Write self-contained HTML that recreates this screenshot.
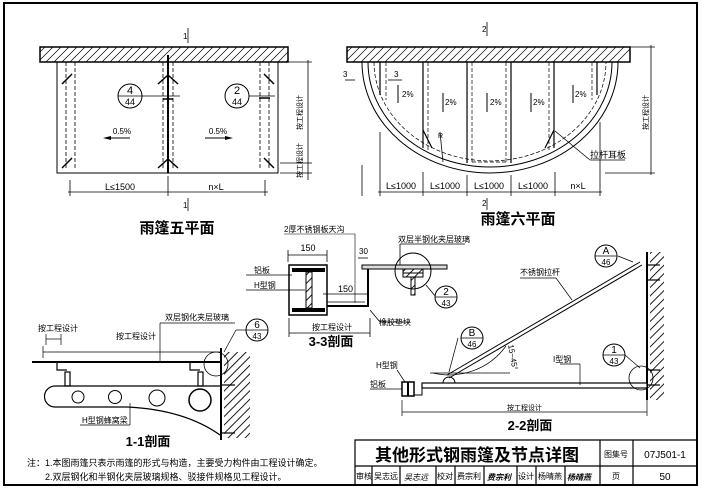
<!DOCTYPE html>
<html><head><meta charset="utf-8"><style>
body{margin:0;background:#fff}
svg{display:block}
text{font-family:"Liberation Sans","Noto Sans CJK SC",sans-serif;fill:#000}
</style></head><body>
<svg width="701" height="488" viewBox="0 0 701 488" xmlns="http://www.w3.org/2000/svg">
<defs>
<pattern id="h" width="6" height="6" patternUnits="userSpaceOnUse" patternTransform="rotate(45)"><rect x="2.5" y="0" width="0.9" height="6" fill="#000"/></pattern>
<clipPath id="c5"><rect x="40" y="47" width="248" height="15"/></clipPath>
<clipPath id="c6"><rect x="347" y="47" width="283" height="15"/></clipPath>
</defs>
<rect x="4" y="3" width="693" height="482" fill="none" stroke="#000" stroke-width="2"/>

<!-- Plan 5 -->
<g clip-path="url(#c5)"><path stroke="#000" stroke-width="0.7" fill="none" d="M30 62l15-15m-7 15l15-15m-7 15l15-15m-7 15l15-15m-7 15l15-15m-7 15l15-15m-7 15l15-15m-7 15l15-15m-7 15l15-15m-7 15l15-15m-7 15l15-15m-7 15l15-15m-7 15l15-15m-7 15l15-15m-7 15l15-15m-7 15l15-15m-7 15l15-15m-7 15l15-15m-7 15l15-15m-7 15l15-15m-7 15l15-15m-7 15l15-15m-7 15l15-15m-7 15l15-15m-7 15l15-15m-7 15l15-15m-7 15l15-15m-7 15l15-15m-7 15l15-15m-7 15l15-15m-7 15l15-15m-7 15l15-15m-7 15l15-15"/></g>
<rect x="40" y="47" width="248" height="15" fill="none" stroke="#000" stroke-width="1.5"/>
<rect x="57" y="62" width="221" height="111" fill="none" stroke="#000" stroke-width="1"/>
<line x1="168" y1="55" x2="168" y2="173" stroke="#000" stroke-width="2"/>
<g stroke="#000" stroke-width="0.8" stroke-dasharray="4,2" fill="none">
<line x1="66" y1="62" x2="66" y2="170"/><line x1="75" y1="62" x2="75" y2="170"/>
<line x1="163" y1="62" x2="163" y2="170"/><line x1="173" y1="62" x2="173" y2="170"/>
<line x1="260" y1="62" x2="260" y2="170"/><line x1="269" y1="62" x2="269" y2="170"/>
</g>
<g stroke="#000" stroke-width="1.5">
<line x1="62" y1="84" x2="72" y2="74"/><line x1="62" y1="168" x2="72" y2="158"/>
<line x1="158" y1="84" x2="168" y2="75"/><line x1="178" y1="84" x2="168" y2="75"/>
<line x1="158" y1="168" x2="168" y2="159"/><line x1="178" y1="168" x2="168" y2="159"/>
<line x1="264" y1="74" x2="274" y2="84"/><line x1="264" y1="158" x2="274" y2="168"/>
<line x1="163" y1="99" x2="173" y2="99"/><line x1="259" y1="98" x2="270" y2="98"/>
</g>
<circle cx="130" cy="96" r="12" fill="#fff" stroke="#000"/><line x1="118" y1="96" x2="180" y2="96" stroke="#000" stroke-width="0.7"/>
<text x="130" y="94" font-size="11" text-anchor="middle">4</text><text x="130" y="105" font-size="9" text-anchor="middle">44</text>
<circle cx="237" cy="96" r="12" fill="#fff" stroke="#000"/><line x1="249" y1="96" x2="275" y2="96" stroke="#000" stroke-width="0.7"/>
<text x="237" y="94" font-size="11" text-anchor="middle">2</text><text x="237" y="105" font-size="9" text-anchor="middle">44</text>
<text x="122" y="134" font-size="8" text-anchor="middle">0.5%</text><line x1="105" y1="138" x2="130" y2="138" stroke="#000"/><path d="M103 138l8-2v4z"/>
<text x="218" y="134" font-size="8" text-anchor="middle">0.5%</text><line x1="205" y1="138" x2="230" y2="138" stroke="#000"/><path d="M233 138l-8-2v4z"/>
<g stroke="#000" stroke-width="0.8"><line x1="70" y1="180" x2="70" y2="196"/><line x1="168" y1="176" x2="168" y2="196"/><line x1="265" y1="180" x2="265" y2="196"/><line x1="68" y1="192" x2="268" y2="192"/>
<line x1="308" y1="60" x2="308" y2="180"/><line x1="280" y1="62" x2="312" y2="62"/><line x1="280" y1="163" x2="312" y2="163"/><line x1="280" y1="173" x2="312" y2="173"/>
<line x1="188" y1="28" x2="188" y2="43"/><line x1="188" y1="198" x2="188" y2="211"/></g>
<text x="120" y="190" font-size="9" text-anchor="middle">L≤1500</text>
<text x="216" y="190" font-size="9" text-anchor="middle">n×L</text>
<text x="183" y="39" font-size="8">1</text><text x="183" y="208" font-size="8">1</text>
<text font-size="7" transform="translate(302,130) rotate(-90)">按工程设计</text>
<text font-size="7" transform="translate(302,178) rotate(-90)">按工程设计</text>
<text x="177" y="233" font-size="15" font-weight="bold" text-anchor="middle">雨篷五平面</text>

<!-- Plan 6 -->
<path d="M362 62 A128 111 0 0 0 618 62" fill="none" stroke="#000" stroke-width="1"/>
<path d="M368 62 A122 105 0 0 0 612 62" fill="none" stroke="#000" stroke-width="1"/>
<path d="M374 62 A116 99 0 0 0 606 62" fill="none" stroke="#000" stroke-width="0.7" stroke-dasharray="4,2"/>
<rect x="347" y="47" width="283" height="15" fill="#fff"/>
<g clip-path="url(#c6)"><path stroke="#000" stroke-width="0.7" fill="none" d="M337 62l15-15m-7 15l15-15m-7 15l15-15m-7 15l15-15m-7 15l15-15m-7 15l15-15m-7 15l15-15m-7 15l15-15m-7 15l15-15m-7 15l15-15m-7 15l15-15m-7 15l15-15m-7 15l15-15m-7 15l15-15m-7 15l15-15m-7 15l15-15m-7 15l15-15m-7 15l15-15m-7 15l15-15m-7 15l15-15m-7 15l15-15m-7 15l15-15m-7 15l15-15m-7 15l15-15m-7 15l15-15m-7 15l15-15m-7 15l15-15m-7 15l15-15m-7 15l15-15m-7 15l15-15m-7 15l15-15m-7 15l15-15m-7 15l15-15m-7 15l15-15m-7 15l15-15m-7 15l15-15"/></g>
<rect x="347" y="47" width="283" height="15" fill="none" stroke="#000" stroke-width="1.5"/>
<g stroke="#000" stroke-width="1.2">
<line x1="380" y1="62" x2="380" y2="95"/><line x1="423" y1="62" x2="423" y2="148"/><line x1="467" y1="62" x2="467" y2="163"/><line x1="511" y1="62" x2="511" y2="163"/><line x1="554" y1="62" x2="554" y2="148"/><line x1="597" y1="62" x2="597" y2="95"/>
<line x1="423" y1="130" x2="432" y2="148"/><line x1="554" y1="130" x2="545" y2="148"/>
</g>
<g stroke="#000" stroke-width="0.7" stroke-dasharray="4,2"><line x1="386" y1="62" x2="386" y2="100"/><line x1="428" y1="62" x2="428" y2="150"/><line x1="472" y1="62" x2="472" y2="162"/><line x1="506" y1="62" x2="506" y2="162"/><line x1="549" y1="62" x2="549" y2="150"/><line x1="592" y1="62" x2="592" y2="100"/><line x1="472" y1="162" x2="506" y2="162"/></g>
<g font-size="8">
<text x="402" y="97">2%</text><text x="445" y="105">2%</text><text x="490" y="105">2%</text><text x="533" y="105">2%</text><text x="575" y="97">2%</text>
</g>
<g stroke="#000"><line x1="398" y1="85" x2="398" y2="103"/><line x1="443" y1="93" x2="443" y2="112"/><line x1="487" y1="93" x2="487" y2="112"/><line x1="531" y1="93" x2="531" y2="112"/><line x1="573" y1="85" x2="573" y2="103"/></g>
<g stroke="#000" stroke-width="0.8">
<line x1="362" y1="165" x2="362" y2="196"/><line x1="380" y1="132" x2="380" y2="196"/><line x1="423" y1="172" x2="423" y2="196"/><line x1="467" y1="175" x2="467" y2="196"/><line x1="511" y1="175" x2="511" y2="196"/><line x1="555" y1="172" x2="555" y2="196"/><line x1="600" y1="122" x2="600" y2="196"/>
<line x1="378" y1="192" x2="602" y2="192"/>
<line x1="651" y1="45" x2="651" y2="175"/><line x1="630" y1="47" x2="655" y2="47"/><line x1="605" y1="173" x2="655" y2="173"/>
<line x1="487" y1="22" x2="487" y2="36"/><line x1="487" y1="198" x2="487" y2="210"/>
<line x1="345" y1="80" x2="355" y2="80"/><line x1="388" y1="80" x2="402" y2="80"/>
<line x1="440" y1="132" x2="443" y2="162"/><line x1="555" y1="131" x2="590" y2="160"/><line x1="590" y1="160" x2="625" y2="160"/>
</g>
<g font-size="9" text-anchor="middle"><text x="401" y="189">L≤1000</text><text x="445" y="189">L≤1000</text><text x="489" y="189">L≤1000</text><text x="533" y="189">L≤1000</text><text x="578" y="189">n×L</text></g>
<text x="482" y="32" font-size="8">2</text><text x="482" y="206" font-size="8">2</text>
<text x="343" y="77" font-size="8">3</text><text x="394" y="77" font-size="8">3</text>
<text x="438" y="138" font-size="7">R</text>
<text x="590" y="158" font-size="9">拉杆耳板</text>
<text font-size="7" transform="translate(648,130) rotate(-90)">按工程设计</text>
<text x="518" y="224" font-size="15" font-weight="bold" text-anchor="middle">雨篷六平面</text>

<!-- 3-3 -->
<text x="284" y="232" font-size="8">2厚不锈钢板天沟</text>
<line x1="284" y1="234" x2="355" y2="234" stroke="#000" stroke-width="0.6"/><line x1="355" y1="234" x2="355" y2="303" stroke="#000" stroke-width="0.6"/>
<g stroke="#000" stroke-width="0.8"><line x1="288" y1="255" x2="327" y2="255"/><line x1="288" y1="250" x2="288" y2="262"/><line x1="327" y1="250" x2="327" y2="262"/>
<line x1="289" y1="333" x2="370" y2="333"/><line x1="289" y1="318" x2="289" y2="337"/><line x1="370" y1="318" x2="370" y2="337"/>
<line x1="323" y1="294" x2="368" y2="294"/><line x1="358" y1="258" x2="368" y2="258"/>
<line x1="246" y1="275" x2="292" y2="275"/><line x1="246" y1="290" x2="305" y2="290"/>
<line x1="370" y1="310" x2="380" y2="322"/><line x1="380" y1="322" x2="410" y2="322"/>
<line x1="400" y1="244" x2="400" y2="265"/><line x1="400" y1="244" x2="465" y2="244"/>
<line x1="426" y1="285" x2="436" y2="297"/></g>
<rect x="289" y="265" width="38" height="50" fill="none" stroke="#000" stroke-width="1.5"/>
<rect x="292" y="268" width="33" height="4" fill="#000"/><rect x="292" y="308" width="33" height="4" fill="#000"/>
<rect x="306" y="272" width="6" height="36" fill="url(#h)" stroke="#000"/>
<path d="M327 306 H368 V267" fill="none" stroke="#000" stroke-width="2"/>
<line x1="327" y1="302" x2="365" y2="302" stroke="#000" stroke-width="0.8"/>
<text x="308" y="251" font-size="9" text-anchor="middle">150</text>
<text x="338" y="292" font-size="9">150</text>
<text x="359" y="254" font-size="8">30</text>
<text x="254" y="273" font-size="8">铝板</text><text x="254" y="288" font-size="8">H型钢</text>
<text x="312" y="330" font-size="8">按工程设计</text>
<text x="379" y="325" font-size="8">橡胶垫块</text>
<text x="331" y="346" font-size="13" font-weight="bold" text-anchor="middle">3-3剖面</text>
<rect x="362" y="265" width="85" height="4" fill="#ddd" stroke="#000"/>
<text x="398" y="242" font-size="8">双层半钢化夹层玻璃</text>
<circle cx="413" cy="271" r="18" fill="none" stroke="#000"/>
<rect x="403" y="269" width="20" height="4" fill="url(#h)" stroke="#000"/><rect x="403" y="273" width="20" height="4" fill="url(#h)" stroke="#000"/>
<rect x="411" y="277" width="4" height="18" fill="url(#h)" stroke="#000"/>
<circle cx="446" cy="297" r="11" fill="#fff" stroke="#000"/><line x1="435" y1="297" x2="457" y2="297" stroke="#000" stroke-width="0.7"/>
<text x="446" y="295" font-size="10" text-anchor="middle">2</text><text x="446" y="306" font-size="8" text-anchor="middle">43</text>

<!-- 1-1 -->
<rect x="224" y="352" width="26" height="86" fill="url(#h)"/>
<line x1="221" y1="348" x2="221" y2="440" stroke="#000" stroke-width="2"/>
<line x1="32" y1="362" x2="221" y2="362" stroke="#000" stroke-width="2"/>
<path d="M220 386 H55 A10.5 10.5 0 0 0 55 407 H128 Q185 410 220 435" fill="none" stroke="#000" stroke-width="1.2"/>
<circle cx="78" cy="397" r="6" fill="none" stroke="#000"/><circle cx="115" cy="397" r="6.5" fill="none" stroke="#000"/><circle cx="157" cy="398" r="8" fill="none" stroke="#000"/><circle cx="200" cy="400" r="11" fill="none" stroke="#000" stroke-width="1.5"/>
<g stroke="#000" stroke-width="1.2" fill="none"><path d="M57 362v8h10"/><rect x="65" y="372" width="5" height="14"/><path d="M190 362v8h10"/><rect x="198" y="372" width="5" height="14"/><line x1="221" y1="385" x2="235" y2="385"/><line x1="221" y1="433" x2="235" y2="433"/></g>
<circle cx="216" cy="364" r="12" fill="none" stroke="#000" stroke-width="0.8"/>
<g stroke="#000" stroke-width="0.7"><line x1="43" y1="352" x2="220" y2="352"/><line x1="43" y1="346" x2="43" y2="358"/><line x1="46" y1="339" x2="61" y2="339"/><line x1="46" y1="334" x2="46" y2="345"/><line x1="61" y1="334" x2="61" y2="345"/>
<line x1="160" y1="323" x2="160" y2="362"/><line x1="160" y1="323" x2="235" y2="323"/><line x1="224" y1="352" x2="236" y2="330"/><line x1="236" y1="330" x2="246" y2="330"/>
<line x1="130" y1="403" x2="130" y2="425"/><line x1="80" y1="425" x2="130" y2="425"/></g>
<text x="38" y="331" font-size="8">按工程设计</text>
<text x="116" y="339" font-size="8">按工程设计</text>
<text x="165" y="320" font-size="8">双层钢化夹层玻璃</text>
<circle cx="257" cy="330" r="11" fill="#fff" stroke="#000"/><line x1="246" y1="330" x2="268" y2="330" stroke="#000" stroke-width="0.7"/>
<text x="257" y="328" font-size="10" text-anchor="middle">6</text><text x="257" y="339" font-size="8" text-anchor="middle">43</text>
<text x="82" y="423" font-size="8">H型钢蜂窝梁</text>
<text x="148" y="446" font-size="13" font-weight="bold" text-anchor="middle">1-1剖面</text>

<!-- 2-2 -->
<rect x="650" y="252" width="14" height="148" fill="url(#h)"/>
<line x1="647" y1="252" x2="647" y2="400" stroke="#000" stroke-width="2"/>
<line x1="447" y1="375" x2="640" y2="262" stroke="#000" stroke-width="1"/><line x1="449" y1="378" x2="642" y2="265" stroke="#000" stroke-width="1"/>
<rect x="422" y="383" width="225" height="5" fill="#fff" stroke="#000" stroke-width="1.2"/>
<rect x="402" y="382" width="12" height="14" fill="#fff" stroke="#000" stroke-width="1.5"/><line x1="408" y1="382" x2="408" y2="396" stroke="#000" stroke-width="2"/>
<path d="M414 395h8v-12" fill="none" stroke="#000"/>
<path d="M443 383a6 6 0 0 1 12 0" fill="none" stroke="#000"/>
<g stroke="#000" stroke-width="1.2"><line x1="647" y1="265" x2="660" y2="265"/><line x1="647" y1="280" x2="660" y2="280"/><line x1="647" y1="370" x2="660" y2="370"/><line x1="647" y1="385" x2="660" y2="385"/></g>
<circle cx="641" cy="378" r="12" fill="none" stroke="#000" stroke-width="0.8"/>
<path d="M433 373 A70 70 0 0 0 506 346" fill="none" stroke="#000" stroke-width="0.7"/>
<g stroke="#000" stroke-width="0.7"><line x1="430" y1="373" x2="510" y2="373"/>
<line x1="402" y1="412" x2="647" y2="412"/><line x1="402" y1="400" x2="402" y2="416"/><line x1="647" y1="400" x2="647" y2="416"/>
<line x1="556" y1="278" x2="572" y2="300"/><line x1="520" y1="278" x2="556" y2="278"/>
<line x1="618" y1="256" x2="633" y2="262"/><line x1="458" y1="338" x2="449" y2="372"/>
<line x1="625" y1="355" x2="640" y2="368"/><line x1="560" y1="364" x2="580" y2="364"/><line x1="580" y1="364" x2="580" y2="385"/>
<line x1="397" y1="370" x2="405" y2="382"/><line x1="370" y1="389" x2="402" y2="389"/></g>
<circle cx="606" cy="256" r="11" fill="#fff" stroke="#000"/><line x1="595" y1="256" x2="617" y2="256" stroke="#000" stroke-width="0.7"/>
<text x="606" y="254" font-size="10" text-anchor="middle">A</text><text x="606" y="265" font-size="8" text-anchor="middle">46</text>
<circle cx="472" cy="338" r="11" fill="#fff" stroke="#000"/><line x1="461" y1="338" x2="483" y2="338" stroke="#000" stroke-width="0.7"/>
<text x="472" y="336" font-size="10" text-anchor="middle">B</text><text x="472" y="347" font-size="8" text-anchor="middle">46</text>
<circle cx="614" cy="355" r="11" fill="#fff" stroke="#000"/><line x1="603" y1="355" x2="625" y2="355" stroke="#000" stroke-width="0.7"/>
<text x="614" y="353" font-size="10" text-anchor="middle">1</text><text x="614" y="364" font-size="8" text-anchor="middle">43</text>
<text x="520" y="275" font-size="8">不锈钢拉杆</text>
<text x="553" y="362" font-size="8">I型钢</text>
<text x="376" y="368" font-size="8">H型钢</text>
<text x="370" y="387" font-size="8">铝板</text>
<text font-size="8" transform="translate(508,345) rotate(80)">15~45°</text>
<text x="507" y="410" font-size="7">按工程设计</text>
<text x="530" y="430" font-size="13" font-weight="bold" text-anchor="middle">2-2剖面</text>

<!-- title block -->
<g stroke="#000" stroke-width="1.2" fill="none">
<path d="M355 485V440H697"/><line x1="355" y1="466" x2="697" y2="466"/><line x1="600" y1="440" x2="600" y2="485"/><line x1="633" y1="440" x2="633" y2="485"/>
<line x1="372" y1="466" x2="372" y2="485"/><line x1="400" y1="466" x2="400" y2="485"/><line x1="436" y1="466" x2="436" y2="485"/><line x1="455" y1="466" x2="455" y2="485"/><line x1="484" y1="466" x2="484" y2="485"/><line x1="517" y1="466" x2="517" y2="485"/><line x1="536" y1="466" x2="536" y2="485"/><line x1="565" y1="466" x2="565" y2="485"/>
</g>
<text x="477" y="461" font-size="17" font-weight="bold" text-anchor="middle">其他形式钢雨篷及节点详图</text>
<text x="616" y="457" font-size="8" text-anchor="middle">图集号</text>
<text x="665" y="458" font-size="10" text-anchor="middle">07J501-1</text>
<g font-size="8"><text x="356" y="479">审核</text><text x="374" y="479">吴志远</text><text x="404" y="480" font-style="italic">吴志远</text><text x="437" y="479">校对</text><text x="457" y="479">费宗利</text><text x="487" y="480" font-style="italic" font-weight="bold">费宗利</text><text x="518" y="479">设计</text><text x="538" y="479">杨晴燕</text><text x="567" y="480" font-style="italic" font-weight="bold">杨晴燕</text><text x="612" y="479">页</text></g>
<text x="665" y="480" font-size="10" text-anchor="middle">50</text>
<text x="27" y="466" font-size="9">注：1.本图雨篷只表示雨篷的形式与构造，主要受力构件由工程设计确定。</text>
<text x="45" y="480" font-size="9">2.双层钢化和半钢化夹层玻璃规格、驳接件规格见工程设计。</text>
</svg>
</body></html>
